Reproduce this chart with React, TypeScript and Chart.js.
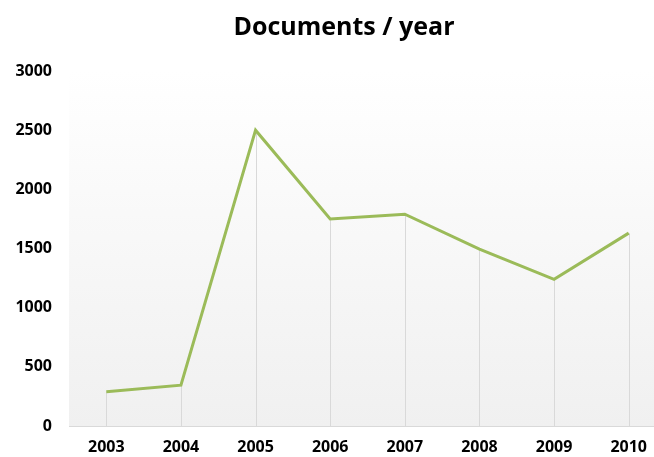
import React, { useEffect, useRef } from "react";
import { Chart, registerables } from "chart.js";

Chart.register(...registerables);

const years = ["2003", "2004", "2005", "2006", "2007", "2008", "2009", "2010"];
const documents = [290, 345, 2500, 1750, 1790, 1495, 1240, 1630];
const yTicks = [0, 500, 1000, 1500, 2000, 2500, 3000];
const titleText = "Documents / year";

const FONT = "'Open Sans', 'Noto Sans', sans-serif";

const backgroundPlugin = {
  id: "plotGradient",
  beforeDraw(chart: any) {
    const { ctx, chartArea } = chart;
    if (!chartArea) return;
    const g = ctx.createLinearGradient(0, chartArea.top, 0, chartArea.bottom);
    g.addColorStop(0, "#ffffff");
    g.addColorStop(1, "#f0f0f0");
    ctx.save();
    ctx.fillStyle = g;
    ctx.fillRect(chartArea.left, chartArea.top, chartArea.right - chartArea.left, chartArea.bottom - chartArea.top);
    ctx.restore();
  },
  beforeDatasetsDraw(chart: any) {
    const { ctx, chartArea } = chart;
    const meta = chart.getDatasetMeta(0);
    ctx.save();
    ctx.strokeStyle = "#d9d9d9";
    ctx.lineWidth = 1;
    meta.data.forEach((pt: any) => {
      const x = Math.round(pt.x) + 0.5;
      ctx.beginPath();
      ctx.moveTo(x, pt.y);
      ctx.lineTo(x, chartArea.bottom);
      ctx.stroke();
    });
    ctx.restore();
  },
};

export default function App() {
  const ref = useRef<HTMLCanvasElement | null>(null);

  useEffect(() => {
    if (!ref.current) return;
    const chart = new Chart(ref.current, {
      type: "line",
      data: {
        labels: years,
        datasets: [
          {
            data: documents,
            borderColor: "#9bbb59",
            borderWidth: 3,
            pointRadius: 0,
            tension: 0,
            fill: false,
            yAxisID: "y",
          },
        ],
      },
      options: {
        responsive: false,
        animation: false,
        maintainAspectRatio: false,
        layout: { padding: 0 },
        plugins: {
          legend: { display: false },
          tooltip: { enabled: false },
          title: {
            display: true,
            text: titleText,
            color: "#000000",
            font: { family: FONT, size: 25, weight: "bold" },
            padding: { top: 13, bottom: 28 },
          },
        },
        scales: {
          x: {
            offset: true,
            grid: { display: false, drawTicks: false, tickLength: 0 },
            border: { display: true, color: "#d9d9d9", width: 1 },
            afterFit(scale: any) {
              scale.height = 31;
            },
            ticks: {
              color: "#000000",
              font: { family: FONT, size: 16, weight: "bold" },
              padding: 12,
              maxRotation: 0,
            },
          },
          y: {
            min: 0,
            max: 3000,
            afterBuildTicks(scale: any) {
              scale.ticks = yTicks.map((v) => ({ value: v }));
            },
            afterFit(scale: any) {
              scale.width = 69;
            },
            grid: { display: false, drawTicks: false, tickLength: 0 },
            border: { display: false },
            ticks: {
              color: "#000000",
              font: { family: FONT, size: 16, weight: "bold" },
              padding: 17,
              callback: (v: any) => String(v),
            },
          },
          yRight: {
            position: "right",
            display: true,
            min: 0,
            max: 3000,
            afterFit(scale: any) {
              scale.width = 22;
            },
            grid: { display: false, drawTicks: false, tickLength: 0 },
            border: { display: false },
            ticks: { display: false },
          },
        },
      },
      plugins: [backgroundPlugin],
    });
    return () => chart.destroy();
  }, []);

  return (
    <div
      style={{
        position: "fixed",
        left: 0,
        top: 0,
        width: 654,
        height: 457,
        overflow: "hidden",
        background: "#ffffff",
      }}
    >
      <canvas ref={ref} width={688} height={457} style={{ display: "block", width: 688, height: 457 }} />
    </div>
  );
}
